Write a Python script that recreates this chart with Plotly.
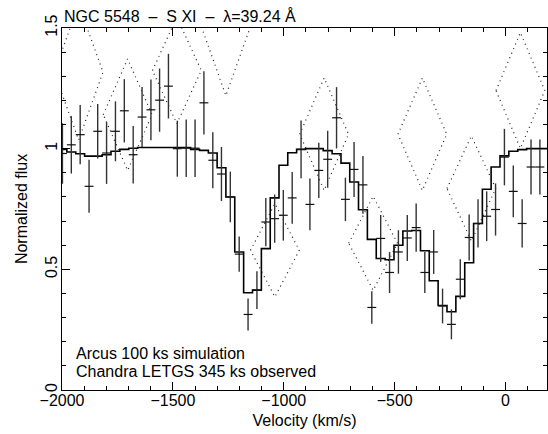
import plotly.graph_objects as go

# ---------------- data ----------------
# Arcus 100 ks simulation (bin centres, flux, 1-sigma error)
arcus_v = [-1998, -1958, -1918, -1878, -1839, -1799, -1759, -1719, -1679, -1639,
           -1599, -1560, -1520, -1480, -1440, -1400, -1360, -1320, -1281, -1241,
           -1201, -1161, -1121, -1081, -1041, -1002, -962, -922, -882, -842,
           -802, -762, -722, -683, -643, -603, -563, -523, -483, -443,
           -403, -364, -324, -284, -244, -204, -164, -124, -85, -45,
           -5, 35, 75, 115, 155]
arcus_flux = [0.98, 1.016, 1.058, 0.844, 1.072, 0.982, 1.072, 1.157, 0.975, 1.131,
              1.161, 1.201, 1.259, 1.000, 1.002, 1.002, 1.190, 0.952, 0.895, 0.800,
              0.563, 0.313, 0.414, 0.696, 0.710, 0.724, 0.796, 0.997, 0.769, 0.910,
              0.956, 1.128, 0.790, 0.914, 0.850, 0.342, 0.628, 0.487, 0.572, 0.630,
              0.673, 0.487, 0.572, 0.348, 0.272, 0.459, 0.632, 0.690, 0.720, 0.748,
              0.965, 0.823, 0.690, 0.924, 0.924]
arcus_err = [0.125, 0.119, 0.123, 0.110, 0.113, 0.128, 0.124, 0.131, 0.119, 0.125,
             0.126, 0.131, 0.134, 0.116, 0.119, 0.119, 0.131, 0.116, 0.112, 0.105,
             0.073, 0.066, 0.078, 0.100, 0.100, 0.105, 0.107, 0.120, 0.107, 0.114,
             0.118, 0.127, 0.090, 0.114, 0.120, 0.067, 0.097, 0.085, 0.090, 0.095,
             0.100, 0.085, 0.091, 0.072, 0.062, 0.083, 0.095, 0.100, 0.103, 0.108,
             0.117, 0.107, 0.100, 0.114, 0.114]
arcus_halfbin = 20

# model (step histogram on the Arcus grid)
model_v = [-1998, -1958, -1918, -1878, -1839, -1799, -1759, -1719, -1679, -1639,
           -1599, -1560, -1520, -1480, -1440, -1400, -1360, -1320, -1281, -1241,
           -1201, -1161, -1121, -1081, -1041, -1002, -962, -922, -882, -842,
           -802, -762, -722, -683, -643, -603, -563, -523, -483, -443,
           -403, -364, -324, -284, -244, -204, -164, -124, -85, -45,
           -5, 35, 75, 115, 155, 195]
model_flux = [0.997, 0.986, 0.979, 0.969, 0.969, 0.975, 0.989, 0.997, 1.002, 1.005,
              1.005, 1.005, 1.005, 1.005, 1.005, 0.997, 0.993, 0.982, 0.921, 0.800,
              0.572, 0.403, 0.414, 0.586, 0.796, 0.931, 0.983, 0.997, 1.000, 1.000,
              0.992, 0.979, 0.940, 0.862, 0.747, 0.624, 0.545, 0.540, 0.600, 0.659,
              0.661, 0.577, 0.453, 0.350, 0.324, 0.388, 0.527, 0.690, 0.832, 0.924,
              0.970, 0.989, 0.996, 1.000, 1.000, 1.000]

# Chandra LETGS 345 ks observed (bin centres, flux, 1-sigma error)
chandra_v = [-1925, -1704, -1482, -1261, -1040, -818, -597, -375, -154, 67]
chandra_flux = [1.317, 1.141, 1.324, 1.504, 0.579, 1.060, 0.608, 1.060, 0.835, 1.241]
chandra_err = [0.281, 0.231, 0.221, 0.284, 0.193, 0.233, 0.195, 0.233, 0.218, 0.240]
chandra_halfbin = 110

x_ticks = [-2000, -1500, -1000, -500, 0]
y_ticks = [0, 0.5, 1, 1.5]
y_ticktext = ["0", "0.5", "1", "1.5"]

title_text = "NGC 5548  \u2013  S XI  \u2013  \u03bb=39.24 \u00c5"
legend_lines = ["Arcus 100 ks simulation", "Chandra LETGS 345 ks observed"]

# ---------------- figure ----------------
FONT = "Liberation Sans, Arial, Helvetica, sans-serif"
fig = go.Figure()

# Chandra diamonds (dotted)
dx, dy = [], []
for v, f, e in zip(chandra_v, chandra_flux, chandra_err):
    dx += [v - chandra_halfbin, v, v + chandra_halfbin, v, v - chandra_halfbin, None]
    dy += [f, f + e, f, f - e, f, None]
fig.add_trace(go.Scatter(x=dx, y=dy, mode="lines",
                         line=dict(color="#222222", width=1.2, dash="1px,4px"),
                         hoverinfo="skip"))

# model step line
fig.add_trace(go.Scatter(x=model_v, y=model_flux, mode="lines",
                         line=dict(color="black", width=1.6, shape="hvh"),
                         hoverinfo="skip"))

# Arcus crosses
fig.add_trace(go.Scatter(x=arcus_v, y=arcus_flux, mode="markers",
                         marker=dict(size=1, color="rgba(0,0,0,0)"),
                         error_x=dict(type="constant", value=arcus_halfbin, width=0,
                                      thickness=1.2, color="#111111"),
                         error_y=dict(type="data", array=arcus_err, width=0,
                                      thickness=1.4, color="#333333"),
                         hoverinfo="skip"))

fig.add_annotation(text=title_text, xref="paper", yref="paper", x=0, y=1,
                   xanchor="left", yanchor="bottom", yshift=1, showarrow=False,
                   font=dict(family=FONT, size=16, color="black"))

for i, t in enumerate(legend_lines):
    fig.add_annotation(text=t, xref="paper", yref="paper", x=0.025, y=0.101 - i * 0.051,
                       xanchor="left", yanchor="middle", showarrow=False,
                       font=dict(family=FONT, size=16, color="black"))

axis_common = dict(showline=True, linecolor="black", linewidth=1, mirror="ticks",
                   ticks="inside", ticklen=8, tickwidth=1, tickcolor="black",
                   showgrid=False, zeroline=False,
                   tickfont=dict(family=FONT, size=16, color="black"))

fig.update_xaxes(range=[-2000, 187], tickvals=x_ticks, ticklabelstandoff=-4,
                 minor=dict(dtick=100, ticks="inside", ticklen=4, tickcolor="black", showgrid=False),
                 title=dict(text="Velocity (km/s)", standoff=6,
                            font=dict(family=FONT, size=16, color="black")),
                 **axis_common)
fig.update_yaxes(range=[0, 1.5], tickvals=y_ticks, ticktext=y_ticktext, tickangle=-90,
                 ticklabelstandoff=-2,
                 minor=dict(dtick=0.1, ticks="inside", ticklen=4, tickcolor="black", showgrid=False),
                 title=dict(text="Normalized flux", standoff=10,
                            font=dict(family=FONT, size=16, color="black")),
                 **axis_common)

fig.update_layout(width=548, height=434, margin=dict(l=62, r=1, t=28, b=44, autoexpand=False),
                  plot_bgcolor="white", paper_bgcolor="white", showlegend=False,
                  font=dict(family=FONT, size=16, color="black"))

fig.write_html("out.html")
